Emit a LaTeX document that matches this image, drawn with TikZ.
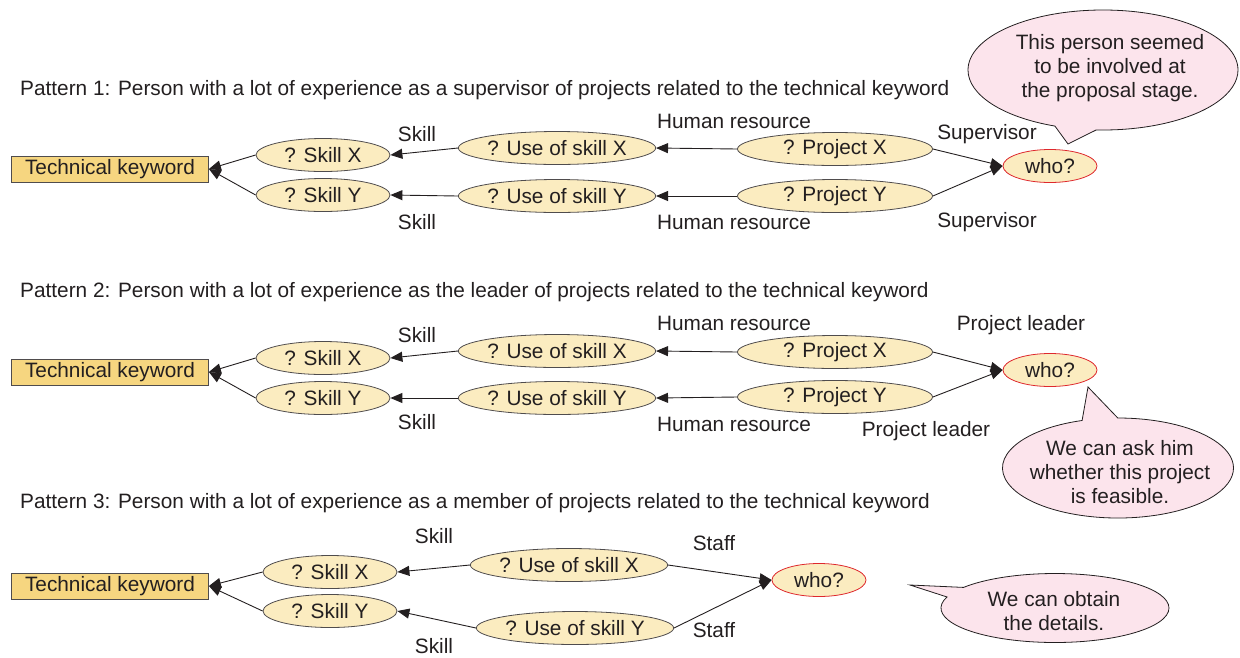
\documentclass[tikz,border=0pt]{standalone}
\usepackage{fontspec}
\setmainfont{Liberation Sans}
\usetikzlibrary{arrows.meta,shapes.geometric,shapes.callouts}
\definecolor{boxfill}{RGB}{246,214,128}
\definecolor{ellfill}{RGB}{251,236,192}
\definecolor{pinkfill}{RGB}{252,228,236}
\definecolor{redline}{RGB}{222,40,45}
\definecolor{ink}{RGB}{35,31,32}
\tikzset{
  every node/.style={font=\fontsize{20.8}{24}\selectfont, text=ink},
  kwbox/.style={draw=ink!80, fill=boxfill, line width=0.8pt, minimum width=197pt, minimum height=26pt, inner sep=0pt},
  ell/.style={ellipse, draw=ink!80, fill=ellfill, line width=0.8pt, inner sep=0pt, minimum height=33pt},
  skillell/.style={ell, minimum width=134pt},
  useell/.style={ell, minimum width=192pt},
  projell/.style={ell, minimum width=195pt},
  whoell/.style={ellipse, draw=redline, fill=ellfill, line width=0.8pt, inner sep=0pt, minimum width=94pt, minimum height=33pt},
  lbl/.style={inner sep=0pt},
  head/.style={inner sep=0pt, anchor=west},
  arr/.style={draw=ink, line width=0.9pt, -{Triangle[length=12pt,width=10pt]}},
  bubble/.style={ellipse callout, draw=ink, fill=pinkfill, line width=0.8pt, inner sep=0pt, callout pointer arc=18},
  btext/.style={inner sep=0pt, align=center},
}
\begin{document}
\begin{tikzpicture}[x=1pt,y=-1pt]
\useasboundingbox (0,0) rectangle (1240,657);

% ---------------- Pattern 1
\node[head] (h1) at (20,90) {Pattern 1: Person with a lot of experience as a supervisor of projects related to the technical keyword};
\node[kwbox] (tk1) at (110,169) {Technical keyword};
\node[skillell] (sx1) at (323,155) {? Skill X};
\node[skillell] (sy1) at (323,195) {? Skill Y};
\node[useell] (ux1) at (557,148) {? Use of skill X};
\node[useell] (uy1) at (557,196) {? Use of skill Y};
\node[projell] (px1) at (835,149) {? Project X};
\node[projell] (py1) at (835,196) {? Project Y};
\node[whoell] (w1) at (1050,166) {who?};
\node[lbl] (l1a) at (417,134) {Skill};
\node[lbl] (l1b) at (417,222) {Skill};
\node[lbl] (l1c) at (734,121) {Human resource};
\node[lbl] (l1d) at (734,222) {Human resource};
\node[lbl] (l1e) at (987,134) {Supervisor};
\node[lbl] (l1f) at (987,222) {Supervisor};
\draw[arr] (sx1.west) -- (tk1.east);
\draw[arr] (sy1.west) -- (tk1.east);
\draw[arr] (ux1.west) -- (sx1.east);
\draw[arr] (uy1.west) -- (sy1.east);
\draw[arr] (px1.west) -- (ux1.east);
\draw[arr] (py1.west) -- (uy1.east);
\draw[arr] (px1.east) -- (w1.west);
\draw[arr] (py1.east) -- (w1.west);
\node[bubble, minimum width=270pt, minimum height=120pt, callout absolute pointer={(1068,144)}] (c1) at (1103,70) {};
\node[btext] (c1t) at (1110,68) {This person seemed\\to be involved at\\the proposal stage.};

% ---------------- Pattern 2
\node[head] (h2) at (20,292) {Pattern 2: Person with a lot of experience as the leader of projects related to the technical keyword};
\node[kwbox] (tk2) at (110,372) {Technical keyword};
\node[skillell] (sx2) at (323,358) {? Skill X};
\node[skillell] (sy2) at (323,398) {? Skill Y};
\node[useell] (ux2) at (557,351) {? Use of skill X};
\node[useell] (uy2) at (557,398) {? Use of skill Y};
\node[projell] (px2) at (835,352) {? Project X};
\node[projell] (py2) at (835,397) {? Project Y};
\node[whoell] (w2) at (1050,370) {who?};
\node[lbl] (l2a) at (417,335) {Skill};
\node[lbl] (l2b) at (417,422) {Skill};
\node[lbl] (l2c) at (734,323) {Human resource};
\node[lbl] (l2d) at (734,424) {Human resource};
\node[lbl] (l2e) at (1021,325) {Project leader};
\node[lbl] (l2f) at (926,431) {Project leader};
\draw[arr] (sx2.west) -- (tk2.east);
\draw[arr] (sy2.west) -- (tk2.east);
\draw[arr] (ux2.west) -- (sx2.east);
\draw[arr] (uy2.west) -- (sy2.east);
\draw[arr] (px2.west) -- (ux2.east);
\draw[arr] (py2.west) -- (uy2.east);
\draw[arr] (px2.east) -- (w2.west);
\draw[arr] (py2.east) -- (w2.west);
\node[bubble, minimum width=231pt, minimum height=100pt, callout absolute pointer={(1088,387)}] (c2) at (1118,468) {};
\node[btext] (c2t) at (1120,472) {We can ask him\\whether this project\\is feasible.};

% ---------------- Pattern 3
\node[head] (h3) at (20,503) {Pattern 3: Person with a lot of experience as a member of projects related to the technical keyword};
\node[kwbox] (tk3) at (110,586) {Technical keyword};
\node[skillell] (sx3) at (330,572) {? Skill X};
\node[skillell] (sy3) at (330,611) {? Skill Y};
\node[useell] (ux3) at (569,565) {? Use of skill X};
\node[useell] (uy3) at (575,628) {? Use of skill Y};
\node[whoell] (w3) at (819,580) {who?};
\node[lbl] (l3a) at (434,536) {Skill};
\node[lbl] (l3b) at (434,646) {Skill};
\node[lbl] (l3c) at (714,543) {Staff};
\node[lbl] (l3d) at (714,630) {Staff};
\draw[arr] (sx3.west) -- (tk3.east);
\draw[arr] (sy3.west) -- (tk3.east);
\draw[arr] (ux3.west) -- (sx3.east);
\draw[arr] (uy3.west) -- (sy3.east);
\draw[arr] (ux3.east) -- (w3.west);
\draw[arr] (uy3.east) -- (w3.west);
\node[bubble, minimum width=228pt, minimum height=69pt, callout absolute pointer={(910,585)}] (c3) at (1055,608) {};
\node[btext] (c3t) at (1054,611) {We can obtain\\the details.};
\end{tikzpicture}
\end{document}
